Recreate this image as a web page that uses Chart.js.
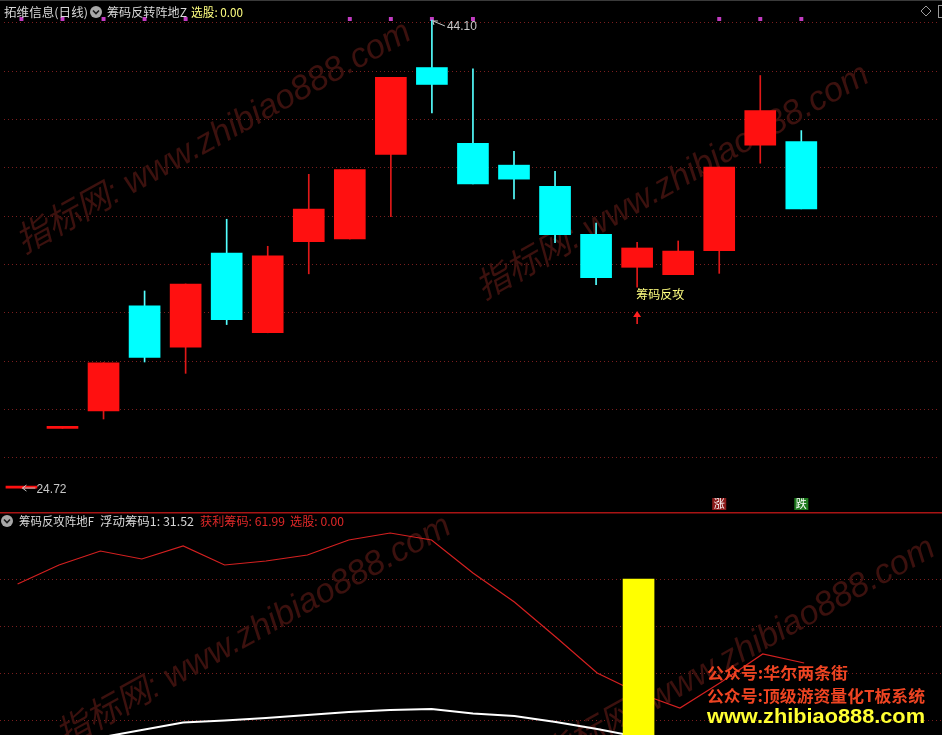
<!DOCTYPE html>
<html>
<head>
<meta charset="utf-8">
<script src="https://cdn.jsdelivr.net/npm/chart.js@4.4.0/dist/chart.umd.min.js"></script>
<style>
  body { margin: 0; background: #000; overflow: hidden; }
  #wrap { position: relative; width: 942px; height: 735px; }
  canvas { position: absolute; left: 0; }
  #priceChart { top: 0; }
  #chipChart { top: 512px; }
</style>
</head>
<body>
<div id="wrap">
  <canvas id="priceChart" width="942" height="512"></canvas>
  <canvas id="chipChart" width="942" height="223"></canvas>
</div>
<script>
// bar positions (day index, -1 is the partly hidden first bar)
const days = [-1, 0, 1, 2, 3, 4, 5, 6, 7, 8, 9, 10, 11, 12, 13, 14, 15, 16, 17, 18];
const openP  = [24.72, 27.19, 27.91, 32.27, 30.55, 34.45, 31.15, 34.92, 35.03, 38.53, 42.13, 38.99, 38.09, 37.21, 35.23, 33.86, 33.56, 34.55, 38.92, 39.07];
const closeP = [24.72, 27.19, 29.91, 30.13, 33.17, 31.69, 34.33, 36.27, 37.91, 41.72, 41.43, 37.31, 37.51, 35.21, 33.43, 34.66, 34.53, 38.01, 40.35, 36.28];
const highP  = [24.72, 27.19, 29.91, 32.88, 33.17, 35.85, 34.73, 37.71, 37.91, 41.72, 44.10, 42.08, 38.66, 37.83, 35.69, 34.89, 34.95, 38.01, 41.80, 39.52];
const lowP   = [24.72, 27.19, 27.58, 29.94, 29.47, 31.49, 31.15, 33.59, 35.03, 35.96, 40.25, 37.31, 36.69, 34.88, 33.14, 33.04, 33.56, 33.61, 38.17, 36.28];
const priceGrid = [43.98, 41.98, 39.98, 37.98, 35.98, 33.98, 31.98, 29.98, 27.98, 25.98];

// signals
const signalDays = [-1, 0, 1, 2, 3, 7, 8, 9, 10, 16, 17, 18];
const signalLevel = 44.14;
const attackDays = [14];
const riseDays = [16];
const fallDays = [18];

// lower panel
const profitChip = [84.90, 90.41, 94.47, 92.15, 95.92, 90.41, 91.57, 93.31, 97.66, 99.69, 97.66, 88.09, 79.68, 69.53, 59.09, 53.29, 48.94, 56.48, 64.60, 61.99];
const floatChip  = [36.18, 38.21, 40.39, 42.56, 44.73, 45.31, 46.04, 46.91, 47.78, 48.36, 48.65, 47.34, 46.62, 44.88, 42.85, 40.53, 38.00, 35.70, 33.50, 31.52];
const chipBarDays = [14];
const chipBarVals = [86.35];
const chipGrid = [86.35, 72.72, 59.09, 45.46];

const UP = "#ff1010", DOWN = "#00ffff";
const CJK = '"Noto Sans CJK SC"';
const wmText = "指标网: www.zhibiao888.com";

const isUp = i => closeP[i] >= openP[i];

function xAxis() {
  return { type: "linear", min: -1.425, max: 21.33, offset: false, display: false };
}
function yAxis(min, max, grid) {
  return {
    position: "right", min: min, max: max,
    afterBuildTicks: s => { s.ticks = grid.map(v => ({ value: v })); },
    ticks: { display: false },
    grid: { color: "#7a1e1e", lineWidth: 1, drawTicks: false },
    border: { display: false, dash: [1, 3] }
  };
}

function drawWatermarks(c, offsetY, list) {
  c.save();
  c.fillStyle = "#3c110e";
  c.font = 'italic 32px "Liberation Sans", ' + CJK;
  const w = c.measureText(wmText).width;
  list.forEach(([x, y, a]) => {
    c.save();
    c.translate(x, y - offsetY);
    c.rotate(a * Math.PI / 180);
    c.scale(445 / w, 445 / w);
    c.fillText(wmText, 0, 0);
    c.restore();
  });
  c.restore();
}

function chevron(c, x, y) {
  c.fillStyle = "#a8a8a8";
  c.beginPath(); c.arc(x, y, 6, 0, Math.PI * 2); c.fill();
  c.strokeStyle = "#1a1a1a"; c.lineWidth = 1.6;
  c.beginPath(); c.moveTo(x - 3, y - 1.5); c.lineTo(x, y + 1.5); c.lineTo(x + 3, y - 1.5); c.stroke();
}

function fitText(c, text, x, y, width) {
  const w = c.measureText(text).width;
  c.save();
  c.translate(x, y);
  c.scale(width / w, 1);
  c.fillText(text, 0, 0);
  c.restore();
}

const priceNotes = {
  id: "priceNotes",
  beforeDatasetsDraw(chart) {
    drawWatermarks(chart.ctx, 0, [[24, 254, -29], [484, 300, -29.5]]);
  },
  afterDatasetsDraw(chart) {
    const c = chart.ctx, xs = chart.scales.x, ys = chart.scales.y;
    c.save();
    c.fillStyle = "#3a3a3a";
    c.fillRect(0, 0, 942, 1);

    // header
    c.textBaseline = "middle";
    c.font = "12px " + CJK;
    c.fillStyle = "#d8d8d8";
    fitText(c, "拓维信息(日线)", 4, 12, 84);
    chevron(c, 96, 12);
    c.fillStyle = "#d8d8d8";
    fitText(c, "筹码反转阵地Z", 107, 12, 80);
    c.fillStyle = "#ffff80";
    fitText(c, "选股: 0.00", 191, 12, 52);

    // right icons
    c.strokeStyle = "#9a9a9a"; c.lineWidth = 1;
    c.beginPath(); c.moveTo(926, 6); c.lineTo(931, 11); c.lineTo(926, 16); c.lineTo(921, 11); c.closePath(); c.stroke();
    c.strokeRect(938.5, 5.5, 8, 12);

    // max / min labels
    c.font = '12px "Liberation Sans"';
    c.fillStyle = "#c8c8c8"; c.strokeStyle = "#c8c8c8";
    const hi = Math.max(...highP), hiI = highP.indexOf(hi);
    let x = xs.getPixelForValue(days[hiI]), y = ys.getPixelForValue(hi);
    c.beginPath();
    c.moveTo(x + 1, y + 1); c.lineTo(x + 13, y + 6);
    c.moveTo(x + 1, y + 1); c.lineTo(x + 6, y + 1);
    c.moveTo(x + 1, y + 1); c.lineTo(x + 2, y + 5);
    c.stroke();
    c.fillText(hi.toFixed(2), x + 15, y + 7);

    const lo = Math.min(...lowP), loI = lowP.indexOf(lo);
    x = xs.getPixelForValue(days[loI]); y = ys.getPixelForValue(lo);
    c.beginPath();
    c.moveTo(x + 1, y); c.lineTo(x + 14, y);
    c.moveTo(x + 1, y); c.lineTo(x + 5, y - 3);
    c.moveTo(x + 1, y); c.lineTo(x + 5, y + 3);
    c.stroke();
    c.fillText(lo.toFixed(2), x + 15, y + 2);

    // 筹码反攻 signal
    attackDays.forEach(d => {
      const i = days.indexOf(d);
      const px = xs.getPixelForValue(d), py = ys.getPixelForValue(lowP[i]);
      c.font = "12px " + CJK;
      c.fillStyle = "#ffff80";
      fitText(c, "筹码反攻", px - 1, py + 7, 48);
      c.fillStyle = "#ff2020"; c.strokeStyle = "#ff2020"; c.lineWidth = 1.5;
      c.beginPath(); c.moveTo(px, py + 24); c.lineTo(px - 4, py + 30); c.lineTo(px + 4, py + 30); c.closePath(); c.fill();
      c.beginPath(); c.moveTo(px, py + 29); c.lineTo(px, py + 37); c.stroke();
    });

    // 涨 / 跌 tags
    const tag = (d, txt, bg) => {
      const px = xs.getPixelForValue(d);
      c.fillStyle = bg;
      c.fillRect(px - 7, 498, 14, 12);
      c.fillStyle = "#ffffff";
      c.font = "11px " + CJK;
      c.textAlign = "center";
      c.fillText(txt, px, 504);
      c.textAlign = "left";
    };
    riseDays.forEach(d => tag(d, "涨", "#8a1a1a"));
    fallDays.forEach(d => tag(d, "跌", "#1f7a1f"));
    c.restore();
  }
};

const chipNotes = {
  id: "chipNotes",
  beforeDatasetsDraw(chart) {
    drawWatermarks(chart.ctx, 512, [[64, 748, -29], [548, 770, -29]]);
  },
  afterDatasetsDraw(chart) {
    const c = chart.ctx;
    c.save();
    c.fillStyle = "#a81414";
    c.fillRect(0, 0, 942, 1.5);

    c.textBaseline = "middle";
    chevron(c, 7, 9);
    c.font = "12px " + CJK;
    c.fillStyle = "#d8d8d8";
    fitText(c, "筹码反攻阵地F", 19, 9, 75);
    fitText(c, "浮动筹码1: " + floatChip[floatChip.length - 1].toFixed(2), 100, 9, 94);
    c.fillStyle = "#e02828";
    fitText(c, "获利筹码: " + profitChip[profitChip.length - 1].toFixed(2), 200, 9, 85);
    fitText(c, "选股: 0.00", 290, 9, 54);

    // promo lines
    c.font = "bold 16px " + CJK;
    c.fillStyle = "#ee4422";
    fitText(c, "公众号:华尔两条街", 707, 673 - 512, 141);
    fitText(c, "公众号:顶级游资量化T板系统", 707, 696 - 512, 218);
    c.font = 'bold 20px "Liberation Sans"';
    c.fillStyle = "#ffff33";
    fitText(c, "www.zhibiao888.com", 707, 717 - 512, 218);
    c.restore();
  }
};

new Chart(document.getElementById("priceChart"), {
  type: "bar",
  data: {
    datasets: [
      {
        data: days.map((d, i) => ({ x: d, y: [openP[i], closeP[i]] })),
        backgroundColor: days.map((d, i) => isUp(i) ? UP : DOWN),
        barThickness: 31, minBarLength: 2, grouped: false, borderWidth: 0
      },
      {
        data: days.map((d, i) => ({ x: d, y: [lowP[i], highP[i]] })),
        backgroundColor: days.map((d, i) => isUp(i) ? "#e01818" : "#54ffff"),
        barThickness: 1, grouped: false, borderWidth: 0
      },
      {
        type: "line",
        data: signalDays.map(d => ({ x: d, y: signalLevel })),
        showLine: false, pointStyle: "rect", pointRadius: 2.8,
        pointBackgroundColor: "#c23cc2", pointBorderWidth: 0
      }
    ]
  },
  options: {
    responsive: false, animation: false, events: [],
    layout: { padding: { top: 14, bottom: 2, left: 0, right: 0 } },
    plugins: { legend: { display: false }, tooltip: { enabled: false } },
    scales: { x: xAxis(), y: yAxis(23.895, 44.347, priceGrid) }
  },
  plugins: [priceNotes]
});

new Chart(document.getElementById("chipChart"), {
  type: "bar",
  data: {
    datasets: [
      {
        data: chipBarDays.map((d, i) => ({ x: d, y: chipBarVals[i] })),
        backgroundColor: "#ffff00", barThickness: 31, grouped: false, borderWidth: 0
      },
      {
        type: "line",
        data: days.map((d, i) => ({ x: d, y: profitChip[i] })),
        borderColor: "#d42020", borderWidth: 1.2, pointRadius: 0, tension: 0
      },
      {
        type: "line",
        data: days.map((d, i) => ({ x: d, y: floatChip[i] })),
        borderColor: "#ffffff", borderWidth: 2, pointRadius: 0, tension: 0
      }
    ]
  },
  options: {
    responsive: false, animation: false, events: [],
    layout: { padding: { top: 18, bottom: 0, left: 0, right: 0 } },
    plugins: { legend: { display: false }, tooltip: { enabled: false } },
    scales: { x: xAxis(), y: yAxis(41.11, 100.56, chipGrid) }
  },
  plugins: [chipNotes]
});
</script>
</body>
</html>
